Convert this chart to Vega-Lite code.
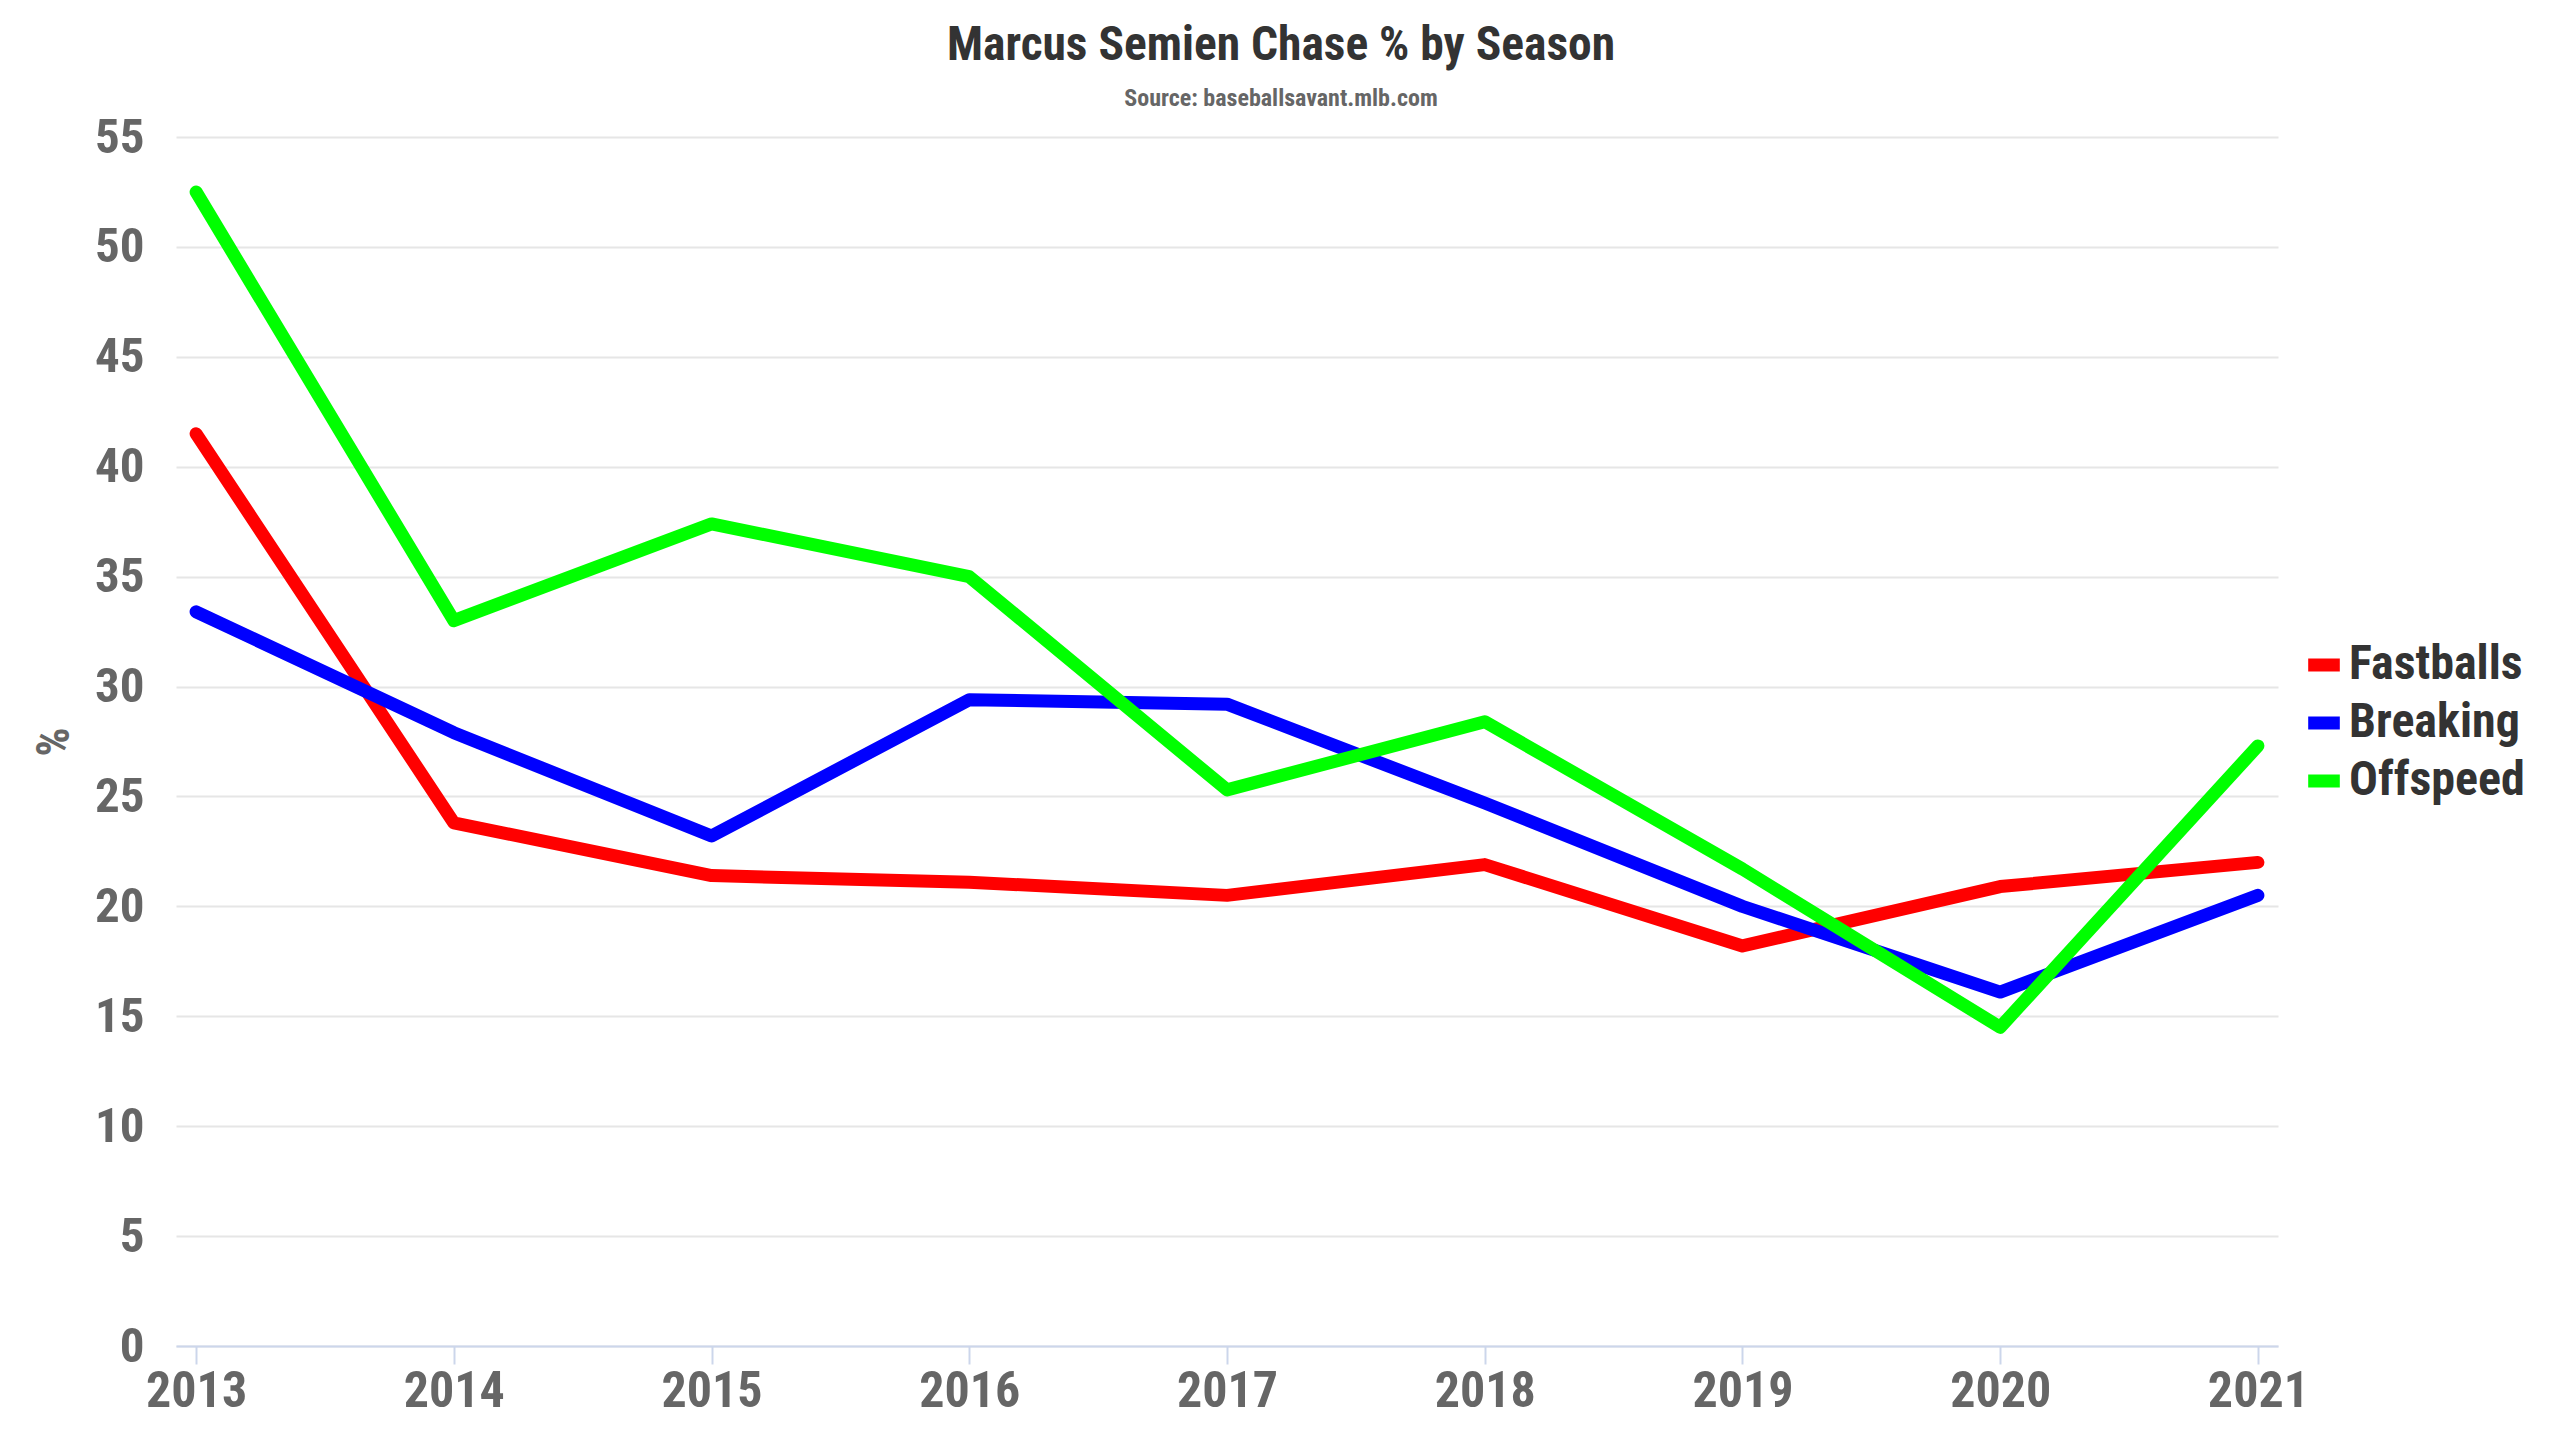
{
  "$schema": "https://vega.github.io/schema/vega-lite/v6.json",
  "width": 2102,
  "height": 1209,
  "autosize": {"type": "none"},
  "padding": {"left": 176, "top": 137, "right": 282, "bottom": 94},
  "background": "white",
  "title": {
    "text": "Marcus Semien Chase % by Season",
    "subtitle": "Source: baseballsavant.mlb.com",
    "anchor": "middle",
    "dx": 54,
    "offset": 2,
    "font": "Roboto Condensed, Roboto",
    "fontSize": 47.5,
    "fontWeight": "bold",
    "color": "#333333",
    "subtitleFont": "Roboto Condensed, Roboto",
    "subtitleFontSize": 24,
    "subtitleFontWeight": "bold",
    "subtitleColor": "#666666",
    "subtitlePadding": 18
  },
  "config": {"view": {"stroke": null}},
  "data": {
    "values": [
      {"season": "2013", "pitch": "Fastballs", "chase": 41.5},
      {"season": "2014", "pitch": "Fastballs", "chase": 23.8},
      {"season": "2015", "pitch": "Fastballs", "chase": 21.4},
      {"season": "2016", "pitch": "Fastballs", "chase": 21.1},
      {"season": "2017", "pitch": "Fastballs", "chase": 20.5},
      {"season": "2018", "pitch": "Fastballs", "chase": 21.9},
      {"season": "2019", "pitch": "Fastballs", "chase": 18.2},
      {"season": "2020", "pitch": "Fastballs", "chase": 20.9},
      {"season": "2021", "pitch": "Fastballs", "chase": 22.0},
      {"season": "2013", "pitch": "Breaking", "chase": 33.4},
      {"season": "2014", "pitch": "Breaking", "chase": 27.9},
      {"season": "2015", "pitch": "Breaking", "chase": 23.2},
      {"season": "2016", "pitch": "Breaking", "chase": 29.4},
      {"season": "2017", "pitch": "Breaking", "chase": 29.2},
      {"season": "2018", "pitch": "Breaking", "chase": 24.7},
      {"season": "2019", "pitch": "Breaking", "chase": 20.0},
      {"season": "2020", "pitch": "Breaking", "chase": 16.1},
      {"season": "2021", "pitch": "Breaking", "chase": 20.5},
      {"season": "2013", "pitch": "Offspeed", "chase": 52.5},
      {"season": "2014", "pitch": "Offspeed", "chase": 33.0},
      {"season": "2015", "pitch": "Offspeed", "chase": 37.4},
      {"season": "2016", "pitch": "Offspeed", "chase": 35.0},
      {"season": "2017", "pitch": "Offspeed", "chase": 25.3},
      {"season": "2018", "pitch": "Offspeed", "chase": 28.4},
      {"season": "2019", "pitch": "Offspeed", "chase": 21.7},
      {"season": "2020", "pitch": "Offspeed", "chase": 14.5},
      {"season": "2021", "pitch": "Offspeed", "chase": 27.3}
    ]
  },
  "mark": {"type": "line", "strokeWidth": 13, "strokeCap": "round", "strokeJoin": "round"},
  "encoding": {
    "x": {
      "field": "season",
      "type": "ordinal",
      "scale": {"type": "point", "padding": 0.078},
      "axis": {
        "title": null,
        "labelAngle": 0,
        "labelFont": "Roboto Condensed, Roboto",
        "labelFontSize": 50,
        "labelFontWeight": "bold",
        "labelColor": "#666666",
        "labelPadding": 2,
        "domainColor": "#ccd6eb",
        "domainWidth": 2,
        "tickColor": "#ccd6eb",
        "tickWidth": 2,
        "tickSize": 18,
        "grid": false
      }
    },
    "y": {
      "field": "chase",
      "type": "quantitative",
      "scale": {"domain": [0, 55], "nice": false},
      "axis": {
        "title": "%",
        "titleFont": "Roboto Condensed, Roboto",
        "titleFontSize": 46,
        "titleFontWeight": "bold",
        "titleColor": "#666666",
        "titlePadding": 16,
        "values": [0, 5, 10, 15, 20, 25, 30, 35, 40, 45, 50, 55],
        "labelFont": "Roboto Condensed, Roboto",
        "labelFontSize": 49,
        "labelFontWeight": "bold",
        "labelColor": "#666666",
        "labelPadding": 32,
        "ticks": false,
        "domain": false,
        "gridColor": "#e6e6e6",
        "gridWidth": 2
      }
    },
    "color": {
      "field": "pitch",
      "type": "nominal",
      "sort": ["Fastballs", "Breaking", "Offspeed"],
      "scale": {"domain": ["Fastballs", "Breaking", "Offspeed"], "range": ["#ff0000", "#0000ff", "#00ff00"]},
      "legend": {
        "title": null,
        "orient": "none",
        "legendX": 2124,
        "legendY": 504,
        "symbolType": "stroke",
        "symbolStrokeWidth": 13,
        "symbolSize": 1000,
        "labelFont": "Roboto Condensed, Roboto",
        "labelFontSize": 48,
        "labelFontWeight": "bold",
        "labelColor": "#333333",
        "labelOffset": 1,
        "labelLimit": 0,
        "rowPadding": 6
      }
    }
  }
}
